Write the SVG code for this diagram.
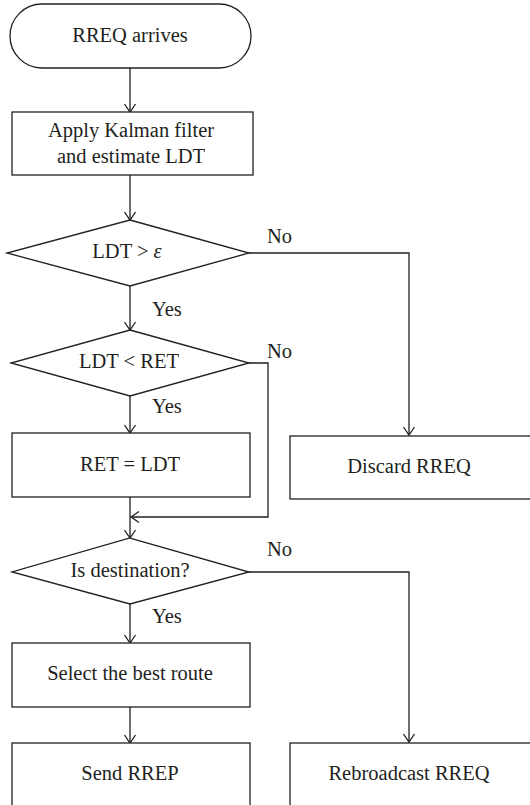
<svg xmlns="http://www.w3.org/2000/svg" width="530" height="805" viewBox="0 0 530 805">
<style>
.s{fill:#fff;stroke:#231f20;stroke-width:1.3}
.c{fill:none;stroke:#231f20;stroke-width:1.3}
text{font-family:"Liberation Serif","Times New Roman",serif;font-size:20.5px;fill:#231f20}
.m{text-anchor:middle}
</style>
<defs>
<marker id="a" markerUnits="userSpaceOnUse" markerWidth="12" markerHeight="14" refX="9" refY="6" orient="auto" viewBox="0 0 12 12">
<path d="M1,0.5 L9,6 L1,11.5" fill="none" stroke="#231f20" stroke-width="1.3"/>
</marker>
</defs>
<rect width="530" height="805" fill="#fff"/>
<g id="connectors">
<path class="c" d="M130,68 V112" marker-end="url(#a)"/>
<path class="c" d="M130,175 V220" marker-end="url(#a)"/>
<path class="c" d="M249,253 H409 V435" marker-end="url(#a)"/>
<path class="c" d="M130,286 V330" marker-end="url(#a)"/>
<path class="c" d="M249,363 H268 V517 H131" marker-end="url(#a)"/>
<path class="c" d="M130,396 V433" marker-end="url(#a)"/>
<path class="c" d="M130,497 V538" marker-end="url(#a)"/>
<path class="c" d="M249,572 H409 V742" marker-end="url(#a)"/>
<path class="c" d="M130,604 V643" marker-end="url(#a)"/>
<path class="c" d="M130,707 V743" marker-end="url(#a)"/>
<text x="267" y="243">No</text>
<text x="152" y="316">Yes</text>
<text x="267" y="358">No</text>
<text x="152" y="413">Yes</text>
<text x="267" y="556">No</text>
<text x="152" y="623">Yes</text>
</g>
<g id="start">
<rect class="s" x="10" y="4" width="241" height="64" rx="32" ry="32"/>
<text class="m" x="130" y="42">RREQ arrives</text>
</g>
<g id="kalman">
<rect class="s" x="12" y="112" width="241" height="63"/>
<text class="m" x="131" y="137">Apply Kalman filter</text>
<text class="m" x="131" y="163">and estimate LDT</text>
</g>
<g id="dec1">
<polygon class="s" points="130,220 249,253 130,286 7,253"/>
<text class="m" x="127" y="258">LDT &gt; <tspan font-style="italic">ε</tspan></text>
</g>
<g id="dec2">
<polygon class="s" points="130,330 249,363 130,396 11,363"/>
<text class="m" x="129" y="368">LDT &lt; RET</text>
</g>
<g id="ret">
<rect class="s" x="12" y="433" width="238" height="64"/>
<text class="m" x="130" y="471">RET = LDT</text>
</g>
<g id="discard">
<rect class="s" x="290" y="436" width="250" height="63"/>
<text class="m" x="409" y="473">Discard RREQ</text>
</g>
<g id="dec3">
<polygon class="s" points="130,538 249,572 130,604 12,572"/>
<text class="m" x="130" y="577">Is destination?</text>
</g>
<g id="select">
<rect class="s" x="12" y="643" width="238" height="64"/>
<text class="m" x="130" y="680">Select the best route</text>
</g>
<g id="send">
<rect class="s" x="12" y="743" width="238" height="80"/>
<text class="m" x="130" y="780">Send RREP</text>
</g>
<g id="rebroadcast">
<rect class="s" x="290" y="743" width="250" height="80"/>
<text class="m" x="409" y="780">Rebroadcast RREQ</text>
</g>
</svg>
